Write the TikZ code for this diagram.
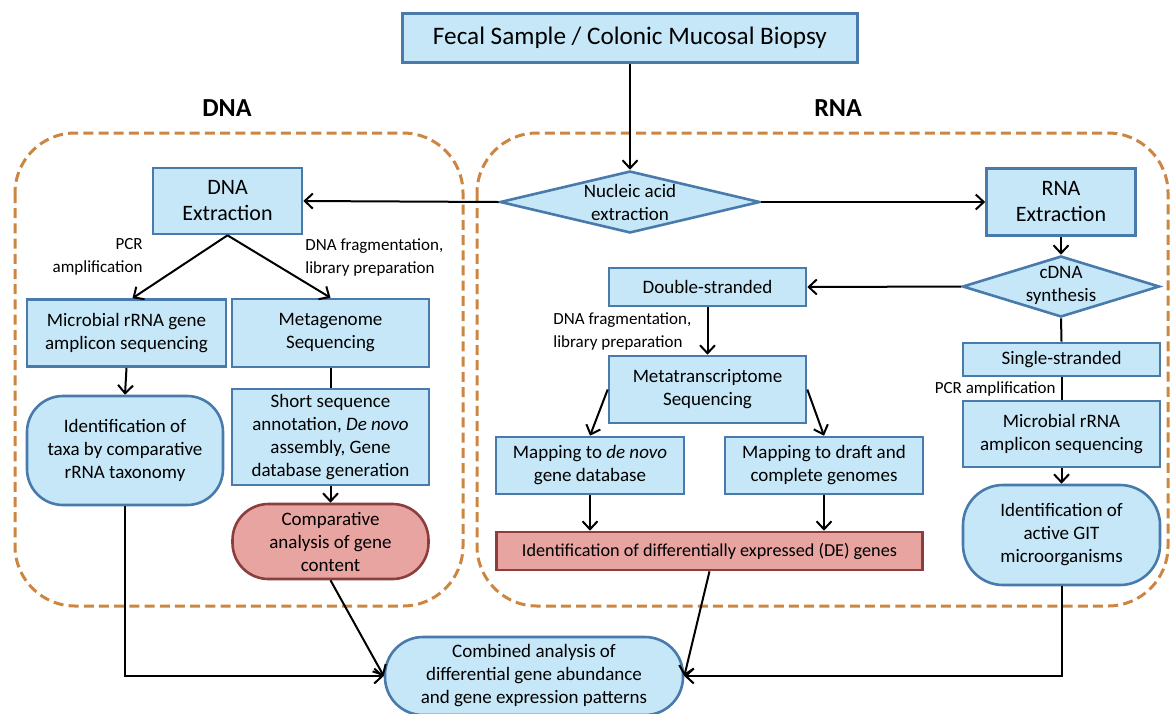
\documentclass[tikz,border=0pt]{standalone}
\usepackage{fontspec}
\setmainfont{Carlito}
\usetikzlibrary{shapes.geometric,arrows.meta,positioning,calc}
\definecolor{boxfill}{RGB}{198,231,248}
\definecolor{boxline}{RGB}{72,122,172}
\definecolor{pinkfill}{RGB}{231,164,160}
\definecolor{pinkline}{RGB}{140,62,62}
\definecolor{dashcol}{RGB}{205,134,66}

\begin{document}
\begin{tikzpicture}[
    x=0.5pt, y=-0.5pt,
    >={Straight Barb[length=4pt,width=7.5pt,line width=1pt]},
    box/.style={rectangle, draw=boxline, fill=boxfill, line width=1.3pt, align=center, inner sep=1pt, font=\fontsize{9.5}{11.5}\selectfont},
    roundbox/.style={box, rounded corners=18pt},
    pinkbox/.style={box, draw=pinkline, fill=pinkfill},
    dia/.style={diamond, draw=boxline, fill=boxfill, line width=1.3pt, inner sep=0pt, aspect=4},
    diatext/.style={align=center, font=\fontsize{9.5}{11.5}\selectfont},
    lbl/.style={font=\fontsize{8.5}{11.5}\selectfont, inner sep=0pt},
    title/.style={font=\fontsize{13}{15}\selectfont\bfseries},
    dashbox/.style={draw=dashcol, line width=1.5pt, dash pattern=on 5pt off 2.6pt, rounded corners=30pt},
    conn/.style={line width=1pt},
]
\useasboundingbox (0,0) rectangle (1171,713);

% groups
\draw[dashbox] (15,133) rectangle (463,606);
\draw[dashbox] (477,133) rectangle (1168,606);
\node[title] (dnatitle) at (227,108) {DNA};
\node[title] (rnatitle) at (838,108) {RNA};

% top
\node[box, minimum width=227.5pt, minimum height=24.5pt, font=\fontsize{12.6}{14}\selectfont] (fecal) at (630,38) {Fecal Sample / Colonic Mucosal Biopsy};
\node[dia, minimum width=130pt, minimum height=31pt] (nucl) at (630,202) {};
\node[diatext] (nucltxt) at (nucl.center) {Nucleic acid\\extraction};

% DNA side
\node[box, minimum width=74.5pt, minimum height=33pt, font=\fontsize{11}{13}\selectfont] (dnaext) at (227.5,201) {DNA\\Extraction};
\node[box, minimum width=99.5pt, minimum height=33.5pt] (mic1) at (126.5,333) {Microbial rRNA gene\\amplicon sequencing};
\node[box, minimum width=98.5pt, minimum height=34pt] (meta) at (330.5,333) {Metagenome\\Sequencing};
\node[roundbox, minimum width=98pt, minimum height=54.5pt] (taxa) at (125,450.5) {Identification of\\taxa by comparative\\rRNA taxonomy};
\node[box, minimum width=98.5pt, minimum height=48pt] (short) at (330.5,437) {Short sequence\\annotation, \textit{De novo}\\assembly, Gene\\database generation};
\node[pinkbox, rounded corners=18pt, minimum width=98pt, minimum height=37.5pt] (comp) at (330.5,541.5) {Comparative\\analysis of gene\\content};
\node[lbl, anchor=east, align=right] (pcr1) at (143,257) {PCR\\amplification};
\node[lbl, anchor=west, align=left] (frag1) at (305,257) {DNA fragmentation,\\library preparation};

% RNA side
\node[box, minimum width=74.5pt, minimum height=33.5pt, font=\fontsize{11}{13}\selectfont] (rnaext) at (1061,202) {RNA\\Extraction};
\node[dia, minimum width=98.5pt, minimum height=30.5pt] (cdna) at (1061,286.5) {};
\node[diatext] (cdnatxt) at ($(cdna.center)+(0,-1)$) {cDNA\\synthesis};
\node[box, minimum width=98.5pt, minimum height=19pt] (dbl) at (707.5,287) {Double-stranded};
\node[lbl, anchor=west, align=left] (frag2) at (553,331) {DNA fragmentation,\\library preparation};
\node[box, minimum width=98.5pt, minimum height=33.5pt] (metat) at (707.5,389.5) {Metatranscriptome\\Sequencing};
\node[box, minimum width=94pt, minimum height=28.5pt] (mapnovo) at (590,465.5) {Mapping to \textit{de novo}\\gene database};
\node[box, minimum width=99pt, minimum height=28.5pt] (mapdraft) at (824,465.5) {Mapping to draft and\\complete genomes};
\node[pinkbox, minimum width=213pt, minimum height=19pt, font=\fontsize{9.1}{11}\selectfont] (de) at (709.5,551) {Identification of differentially expressed (DE) genes};
\node[box, minimum width=98.5pt, minimum height=16.5pt] (single) at (1061.5,359.5) {Single-stranded};
\node[lbl, anchor=east] (pcr2) at (1056,389) {PCR amplification};
\node[box, minimum width=98.5pt, minimum height=33pt] (mic2) at (1061.5,434) {Microbial rRNA\\amplicon sequencing};
\node[roundbox, rounded corners=20pt, minimum width=98.5pt, minimum height=50pt] (git) at (1061.5,535) {Identification of\\active GIT\\microorganisms};

% bottom
\node[roundbox, rounded corners=19pt, minimum width=149pt, minimum height=39pt] (comb) at (534,676) {Combined analysis of\\differential gene abundance\\and gene expression patterns};

% connectors
\draw[conn, ->] (fecal.south) -- (nucl.north);
\draw[conn, ->] (nucl.west) -- (dnaext.east);
\draw[conn, ->] (nucl.east) -- (rnaext.west);
\draw[conn, ->] (dnaext.south) -- ($(mic1.north)+(6,0)$);
\draw[conn, ->] (dnaext.south) -- (meta.north);
\draw[conn, ->] (mic1.south) -- (taxa.north);
\draw[conn] (meta.south) -- (short.north);
\draw[conn, ->] (short.south) -- (comp.north);
\draw[conn, ->] (taxa.south) |- (comb.west);
\draw[conn, ->] (comp.south) -- (comb.west);
\draw[conn, ->] (rnaext.south) -- (cdna.north);
\draw[conn, ->] (cdna.west) -- (dbl.east);
\draw[conn, ->] (dbl.south) -- (metat.north);
\draw[conn, ->] (metat.west) -- (mapnovo.north);
\draw[conn, ->] (metat.east) -- (mapdraft.north);
\draw[conn, ->] (mapnovo.south) -- (mapnovo.south |- de.north);
\draw[conn, ->] (mapdraft.south) -- (mapdraft.south |- de.north);
\draw[conn, ->] (de.south) -- (comb.east);
\draw[conn] (cdna.south) -- (single.north);
\draw[conn] (single.south) -- (mic2.north);
\draw[conn, ->] (mic2.south) -- (git.north);
\draw[conn, ->] (git.south) |- (comb.east);

\end{tikzpicture}
\end{document}
